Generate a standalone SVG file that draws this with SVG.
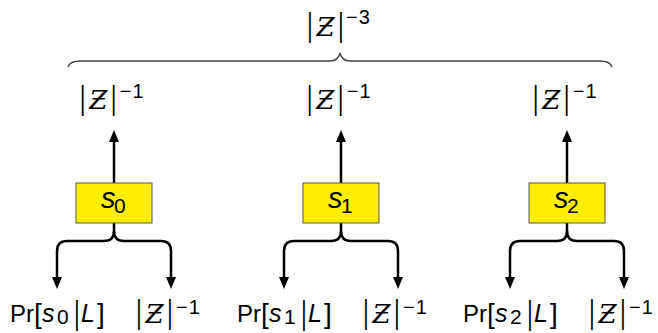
<svg xmlns="http://www.w3.org/2000/svg" width="658" height="333" viewBox="0 0 658 333">
  <style>
    text { font-family: "Liberation Sans", Arial, sans-serif; fill: #000; }
    .bar { font-family: "Liberation Serif", serif; font-size: 34px; text-anchor: middle; }
    .zc { font-family: "DejaVu Serif", "Liberation Serif", serif; font-style: italic; font-size: 26px; text-anchor: middle; }
    .sup { font-size: 20px; letter-spacing: 1px; }
    .it { font-style: italic; }
    .box { fill: #ffee00; stroke: #555; stroke-width: 1; }
    .wire { fill: none; stroke: #000; stroke-width: 2.5; }
    .brace { fill: none; stroke: #444; stroke-width: 1.4; }
  </style>
  <defs>
    <marker id="ah" viewBox="0 0 12 10" refX="0" refY="5" markerWidth="12" markerHeight="10" markerUnits="userSpaceOnUse" orient="auto">
      <path d="M0,0 L12,5 L0,10 Z" fill="#000"/>
    </marker>
  </defs>

  <!-- overall brace and its label -->
  <g id="total">
    <path class="brace" d="M68,67 Q70,61 80,61 L330,61 Q338,61 340,53 Q342,61 350,61 L600,61 Q610,61 612,67"/>
    <g transform="translate(310,36)">
      <text class="bar" x="0">|</text>
      <text class="zc" x="15.5">Ƶ</text>
      <text class="bar" x="31">|</text>
      <text class="sup" x="36" y="-12">−3</text>
    </g>
  </g>

  <!-- connectors -->
  <g id="connectors" class="wire">
    <path d="M114,183 L114,142" marker-end="url(#ah)"/>
    <path d="M114,223 L114,231 Q114,241 104,241 L67,241 Q57,241 57,251 L57,277" marker-end="url(#ah)"/>
    <path d="M114,231 Q114,241 124,241 L161,241 Q171,241 171,251 L171,277" marker-end="url(#ah)"/>

    <path d="M341,183 L341,142" marker-end="url(#ah)"/>
    <path d="M341,223 L341,231 Q341,241 331,241 L294,241 Q284,241 284,251 L284,277" marker-end="url(#ah)"/>
    <path d="M341,231 Q341,241 351,241 L388,241 Q398,241 398,251 L398,277" marker-end="url(#ah)"/>

    <path d="M567,183 L567,142" marker-end="url(#ah)"/>
    <path d="M567,223 L567,231 Q567,241 557,241 L520,241 Q510,241 510,251 L510,277" marker-end="url(#ah)"/>
    <path d="M567,231 Q567,241 577,241 L614,241 Q624,241 624,251 L624,277" marker-end="url(#ah)"/>
  </g>

  <!-- state s0 -->
  <g id="s0">
    <rect class="box" x="76" y="183" width="76" height="40"/>
    <text x="101" y="208" class="it" font-size="29">s</text>
    <text x="114" y="213" font-size="21">0</text>
    <g transform="translate(82.7,108.5)">
      <text class="bar" x="0">|</text><text class="zc" x="15.5">Ƶ</text><text class="bar" x="31">|</text>
      <text class="sup" x="37" y="-11">−1</text>
    </g>
    <g font-size="24">
      <text x="10" y="322">Pr</text>
      <text x="34" y="323" font-size="28">[</text>
      <text x="42" y="322" class="it" font-size="25">s</text>
      <text x="57" y="324" font-size="21">0</text>
      <text x="77" y="324" class="bar">|</text>
      <text x="81" y="322" class="it" font-size="25">L</text>
      <text x="97" y="323" font-size="28">]</text>
    </g>
    <g transform="translate(139,323)">
      <text class="bar" x="0">|</text><text class="zc" x="15.5">Ƶ</text><text class="bar" x="31">|</text>
      <text class="sup" x="37" y="-9">−1</text>
    </g>
  </g>

  <!-- state s1 -->
  <g id="s1">
    <rect class="box" x="303" y="183" width="76" height="40"/>
    <text x="328" y="208" class="it" font-size="29">s</text>
    <text x="341" y="213" font-size="21">1</text>
    <g transform="translate(309.7,108.5)">
      <text class="bar" x="0">|</text><text class="zc" x="15.5">Ƶ</text><text class="bar" x="31">|</text>
      <text class="sup" x="37" y="-11">−1</text>
    </g>
    <g font-size="24">
      <text x="237" y="322">Pr</text>
      <text x="261" y="323" font-size="28">[</text>
      <text x="269" y="322" class="it" font-size="25">s</text>
      <text x="284" y="324" font-size="21">1</text>
      <text x="304" y="324" class="bar">|</text>
      <text x="308" y="322" class="it" font-size="25">L</text>
      <text x="324" y="323" font-size="28">]</text>
    </g>
    <g transform="translate(366,323)">
      <text class="bar" x="0">|</text><text class="zc" x="15.5">Ƶ</text><text class="bar" x="31">|</text>
      <text class="sup" x="37" y="-9">−1</text>
    </g>
  </g>

  <!-- state s2 -->
  <g id="s2">
    <rect class="box" x="529" y="183" width="76" height="40"/>
    <text x="554" y="208" class="it" font-size="29">s</text>
    <text x="567" y="213" font-size="21">2</text>
    <g transform="translate(535.7,108.5)">
      <text class="bar" x="0">|</text><text class="zc" x="15.5">Ƶ</text><text class="bar" x="31">|</text>
      <text class="sup" x="37" y="-11">−1</text>
    </g>
    <g font-size="24">
      <text x="463" y="322">Pr</text>
      <text x="487" y="323" font-size="28">[</text>
      <text x="495" y="322" class="it" font-size="25">s</text>
      <text x="510" y="324" font-size="21">2</text>
      <text x="530" y="324" class="bar">|</text>
      <text x="534" y="322" class="it" font-size="25">L</text>
      <text x="550" y="323" font-size="28">]</text>
    </g>
    <g transform="translate(592,323)">
      <text class="bar" x="0">|</text><text class="zc" x="15.5">Ƶ</text><text class="bar" x="31">|</text>
      <text class="sup" x="37" y="-9">−1</text>
    </g>
  </g>
</svg>
